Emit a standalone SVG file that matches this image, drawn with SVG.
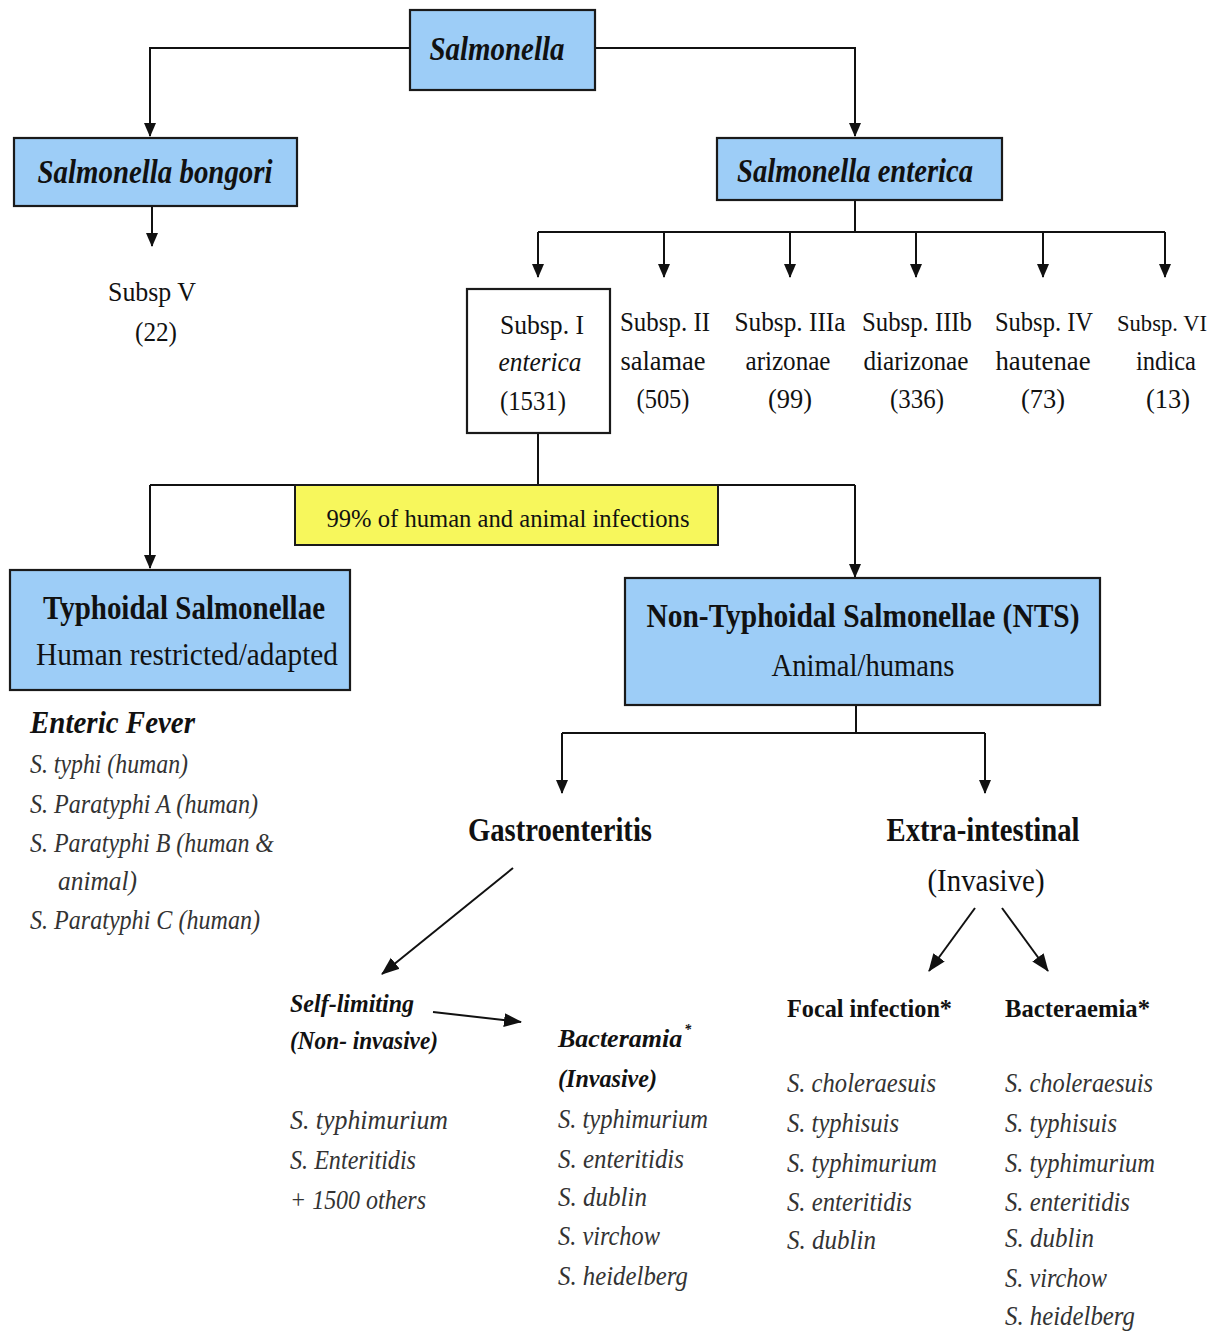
<svg xmlns="http://www.w3.org/2000/svg" width="1213" height="1334" viewBox="0 0 1213 1334">
<style>
.t{font-family:"Liberation Serif",serif;fill:#111}
.b{font-weight:bold}
.i{font-style:italic}
.c{text-anchor:middle}
.box{fill:#9dcdf7;stroke:#1a1a1a;stroke-width:2.2}
.wbox{fill:#fff;stroke:#1a1a1a;stroke-width:2.2}
.ybox{fill:#f7f75c;stroke:#1a1a1a;stroke-width:2}
.ln{fill:none;stroke:#111;stroke-width:2}
.lst{font-family:"Liberation Serif",serif;font-style:italic;fill:#333;font-size:27px}
</style>
<defs>
<marker id="ah" markerUnits="userSpaceOnUse" markerWidth="14" markerHeight="20" refX="13" refY="7" orient="auto" viewBox="0 0 14 14">
<path d="M0,1 L14,7 L0,13 Z" fill="#111"/>
</marker>
<marker id="ah2" markerUnits="userSpaceOnUse" markerWidth="18" markerHeight="16" refX="17" refY="8" orient="auto" viewBox="0 0 18 16">
<path d="M0,1 L18,8 L0,15 Z" fill="#111"/>
</marker>
</defs>
<rect width="1213" height="1334" fill="#fff"/>

<g id="connectors">
<path class="ln" d="M410,48 H150 V136" marker-end="url(#ah)"/>
<path class="ln" d="M595,48 H855 V136" marker-end="url(#ah)"/>
<path class="ln" d="M152,206 V246" marker-end="url(#ah)"/>
<path class="ln" d="M855,200 V232"/>
<path class="ln" d="M538,232 H1165"/>
<path class="ln" d="M538,232 V277" marker-end="url(#ah)"/>
<path class="ln" d="M664,232 V277" marker-end="url(#ah)"/>
<path class="ln" d="M790,232 V277" marker-end="url(#ah)"/>
<path class="ln" d="M916,232 V277" marker-end="url(#ah)"/>
<path class="ln" d="M1043,232 V277" marker-end="url(#ah)"/>
<path class="ln" d="M1165,232 V277" marker-end="url(#ah)"/>
<path class="ln" d="M538,433 V485"/>
<path class="ln" d="M150,485 H855"/>
<path class="ln" d="M150,485 V568" marker-end="url(#ah)"/>
<path class="ln" d="M855,485 V577" marker-end="url(#ah)"/>
<path class="ln" d="M856,705 V733"/>
<path class="ln" d="M562,733 H985"/>
<path class="ln" d="M562,733 V793" marker-end="url(#ah)"/>
<path class="ln" d="M985,733 V793" marker-end="url(#ah)"/>
<path class="ln" d="M513,868 L382,974" marker-end="url(#ah2)"/>
<path class="ln" d="M975,908 L929,971" marker-end="url(#ah2)"/>
<path class="ln" d="M1002,908 L1048,971" marker-end="url(#ah2)"/>
<path class="ln" d="M433,1012 L521,1022" marker-end="url(#ah2)"/>
</g>

<g id="n-salmonella">
<rect class="box" x="410" y="10" width="185" height="80"/>
<text class="t b i c" x="497" y="60" font-size="34" textLength="135" lengthAdjust="spacingAndGlyphs">Salmonella</text>
</g>
<g id="n-bongori">
<rect class="box" x="14" y="138" width="283" height="68"/>
<text class="t b i c" x="155" y="183" font-size="34" textLength="235" lengthAdjust="spacingAndGlyphs">Salmonella bongori</text>
</g>
<g id="n-enterica">
<rect class="box" x="717" y="138" width="285" height="62"/>
<text class="t b i c" x="855" y="182" font-size="34" textLength="236" lengthAdjust="spacingAndGlyphs">Salmonella enterica</text>
</g>
<g id="n-subspV">
<text class="t c" x="152" y="301" font-size="27" textLength="88" lengthAdjust="spacingAndGlyphs">Subsp V</text>
<text class="t c" x="156" y="341" font-size="27" textLength="42" lengthAdjust="spacingAndGlyphs">(22)</text>
</g>
<g id="n-subspI">
<rect class="wbox" x="467" y="289" width="143" height="144"/>
<text class="t c" x="542" y="334" font-size="28" textLength="84" lengthAdjust="spacingAndGlyphs">Subsp. I</text>
<text class="t i c" x="540" y="371" font-size="28" textLength="83" lengthAdjust="spacingAndGlyphs">enterica</text>
<text class="t c" x="533" y="410" font-size="28" textLength="66" lengthAdjust="spacingAndGlyphs">(1531)</text>
</g>
<g id="n-subspII">
<text class="t c" x="665" y="331" font-size="28" textLength="90" lengthAdjust="spacingAndGlyphs">Subsp. II</text>
<text class="t c" x="663" y="370" font-size="28" textLength="85" lengthAdjust="spacingAndGlyphs">salamae</text>
<text class="t c" x="663" y="408" font-size="28" textLength="53" lengthAdjust="spacingAndGlyphs">(505)</text>
</g>
<g id="n-subspIIIa">
<text class="t c" x="790" y="331" font-size="28" textLength="111" lengthAdjust="spacingAndGlyphs">Subsp. IIIa</text>
<text class="t c" x="788" y="370" font-size="28" textLength="85" lengthAdjust="spacingAndGlyphs">arizonae</text>
<text class="t c" x="790" y="408" font-size="28" textLength="44" lengthAdjust="spacingAndGlyphs">(99)</text>
</g>
<g id="n-subspIIIb">
<text class="t c" x="917" y="331" font-size="28" textLength="110" lengthAdjust="spacingAndGlyphs">Subsp. IIIb</text>
<text class="t c" x="916" y="370" font-size="28" textLength="105" lengthAdjust="spacingAndGlyphs">diarizonae</text>
<text class="t c" x="917" y="408" font-size="28" textLength="54" lengthAdjust="spacingAndGlyphs">(336)</text>
</g>
<g id="n-subspIV">
<text class="t c" x="1044" y="331" font-size="28" textLength="98" lengthAdjust="spacingAndGlyphs">Subsp. IV</text>
<text class="t c" x="1043" y="370" font-size="28" textLength="95" lengthAdjust="spacingAndGlyphs">hautenae</text>
<text class="t c" x="1043" y="408" font-size="28" textLength="44" lengthAdjust="spacingAndGlyphs">(73)</text>
</g>
<g id="n-subspVI">
<text class="t" x="1117" y="331" font-size="24" textLength="90" lengthAdjust="spacingAndGlyphs">Subsp. VI</text>
<text class="t c" x="1166" y="370" font-size="28" textLength="60" lengthAdjust="spacingAndGlyphs">indica</text>
<text class="t c" x="1168" y="408" font-size="28" textLength="44" lengthAdjust="spacingAndGlyphs">(13)</text>
</g>
<g id="n-note99">
<rect class="ybox" x="295" y="485" width="423" height="60"/>
<text class="t c" x="508" y="527" font-size="26" textLength="363" lengthAdjust="spacingAndGlyphs">99% of human and animal infections</text>
</g>
<g id="n-typhoidal">
<rect class="box" x="10" y="570" width="340" height="120"/>
<text class="t b c" x="184" y="619" font-size="33" textLength="282" lengthAdjust="spacingAndGlyphs">Typhoidal Salmonellae</text>
<text class="t c" x="187" y="665" font-size="32" textLength="302" lengthAdjust="spacingAndGlyphs">Human restricted/adapted</text>
</g>
<g id="n-nts">
<rect class="box" x="625" y="578" width="475" height="127"/>
<text class="t b c" x="863" y="627" font-size="33" textLength="433" lengthAdjust="spacingAndGlyphs">Non-Typhoidal Salmonellae (NTS)</text>
<text class="t c" x="863" y="676" font-size="31" textLength="183" lengthAdjust="spacingAndGlyphs">Animal/humans</text>
</g>
<g id="n-enteric">
<text class="t b i" x="30" y="733" font-size="31" textLength="165" lengthAdjust="spacingAndGlyphs">Enteric Fever</text>
<text class="lst" x="30" y="773" textLength="158" lengthAdjust="spacingAndGlyphs">S. typhi (human)</text>
<text class="lst" x="30" y="813" textLength="228" lengthAdjust="spacingAndGlyphs">S. Paratyphi A (human)</text>
<text class="lst" x="30" y="852" textLength="244" lengthAdjust="spacingAndGlyphs">S. Paratyphi B (human &amp;</text>
<text class="lst" x="58" y="890" textLength="79" lengthAdjust="spacingAndGlyphs">animal)</text>
<text class="lst" x="30" y="929" textLength="230" lengthAdjust="spacingAndGlyphs">S. Paratyphi C (human)</text>
</g>
<g id="n-gastro">
<text class="t b c" x="560" y="841" font-size="33" textLength="184" lengthAdjust="spacingAndGlyphs">Gastroenteritis</text>
</g>
<g id="n-extra">
<text class="t b c" x="983" y="841" font-size="33" textLength="193" lengthAdjust="spacingAndGlyphs">Extra-intestinal</text>
<text class="t c" x="986" y="891" font-size="31" textLength="117" lengthAdjust="spacingAndGlyphs">(Invasive)</text>
</g>
<g id="n-selflimiting">
<text class="t b i" x="290" y="1012" font-size="26" textLength="124" lengthAdjust="spacingAndGlyphs">Self-limiting</text>
<text class="t b i" x="290" y="1049" font-size="26" textLength="148" lengthAdjust="spacingAndGlyphs">(Non- invasive)</text>
<text class="lst" x="290" y="1129" textLength="158" lengthAdjust="spacingAndGlyphs">S. typhimurium</text>
<text class="lst" x="290" y="1169" textLength="126" lengthAdjust="spacingAndGlyphs">S. Enteritidis</text>
<text class="lst" x="290" y="1209" textLength="136" lengthAdjust="spacingAndGlyphs">+ 1500 others</text>
</g>
<g id="n-bacteramia">
<text class="t b i" x="558" y="1047" font-size="26">Bacteramia<tspan font-size="14" dy="-13" dx="2">*</tspan></text>
<text class="t b i" x="558" y="1087" font-size="26" textLength="99" lengthAdjust="spacingAndGlyphs">(Invasive)</text>
<text class="lst" x="558" y="1128" textLength="150" lengthAdjust="spacingAndGlyphs">S. typhimurium</text>
<text class="lst" x="558" y="1168" textLength="126" lengthAdjust="spacingAndGlyphs">S. enteritidis</text>
<text class="lst" x="558" y="1206" textLength="89" lengthAdjust="spacingAndGlyphs">S. dublin</text>
<text class="lst" x="558" y="1245" textLength="102" lengthAdjust="spacingAndGlyphs">S. virchow</text>
<text class="lst" x="558" y="1285" textLength="130" lengthAdjust="spacingAndGlyphs">S. heidelberg</text>
</g>
<g id="n-focal">
<text class="t b" x="787" y="1017" font-size="26" textLength="165" lengthAdjust="spacingAndGlyphs">Focal infection*</text>
<text class="lst" x="787" y="1092" textLength="149" lengthAdjust="spacingAndGlyphs">S. choleraesuis</text>
<text class="lst" x="787" y="1132" textLength="112" lengthAdjust="spacingAndGlyphs">S. typhisuis</text>
<text class="lst" x="787" y="1172" textLength="150" lengthAdjust="spacingAndGlyphs">S. typhimurium</text>
<text class="lst" x="787" y="1211" textLength="125" lengthAdjust="spacingAndGlyphs">S. enteritidis</text>
<text class="lst" x="787" y="1249" textLength="89" lengthAdjust="spacingAndGlyphs">S. dublin</text>
</g>
<g id="n-bacteraemia">
<text class="t b" x="1005" y="1017" font-size="26" textLength="145" lengthAdjust="spacingAndGlyphs">Bacteraemia*</text>
<text class="lst" x="1005" y="1092" textLength="148" lengthAdjust="spacingAndGlyphs">S. choleraesuis</text>
<text class="lst" x="1005" y="1132" textLength="112" lengthAdjust="spacingAndGlyphs">S. typhisuis</text>
<text class="lst" x="1005" y="1172" textLength="150" lengthAdjust="spacingAndGlyphs">S. typhimurium</text>
<text class="lst" x="1005" y="1211" textLength="125" lengthAdjust="spacingAndGlyphs">S. enteritidis</text>
<text class="lst" x="1005" y="1247" textLength="89" lengthAdjust="spacingAndGlyphs">S. dublin</text>
<text class="lst" x="1005" y="1287" textLength="102" lengthAdjust="spacingAndGlyphs">S. virchow</text>
<text class="lst" x="1005" y="1325" textLength="130" lengthAdjust="spacingAndGlyphs">S. heidelberg</text>
</g>
</svg>
